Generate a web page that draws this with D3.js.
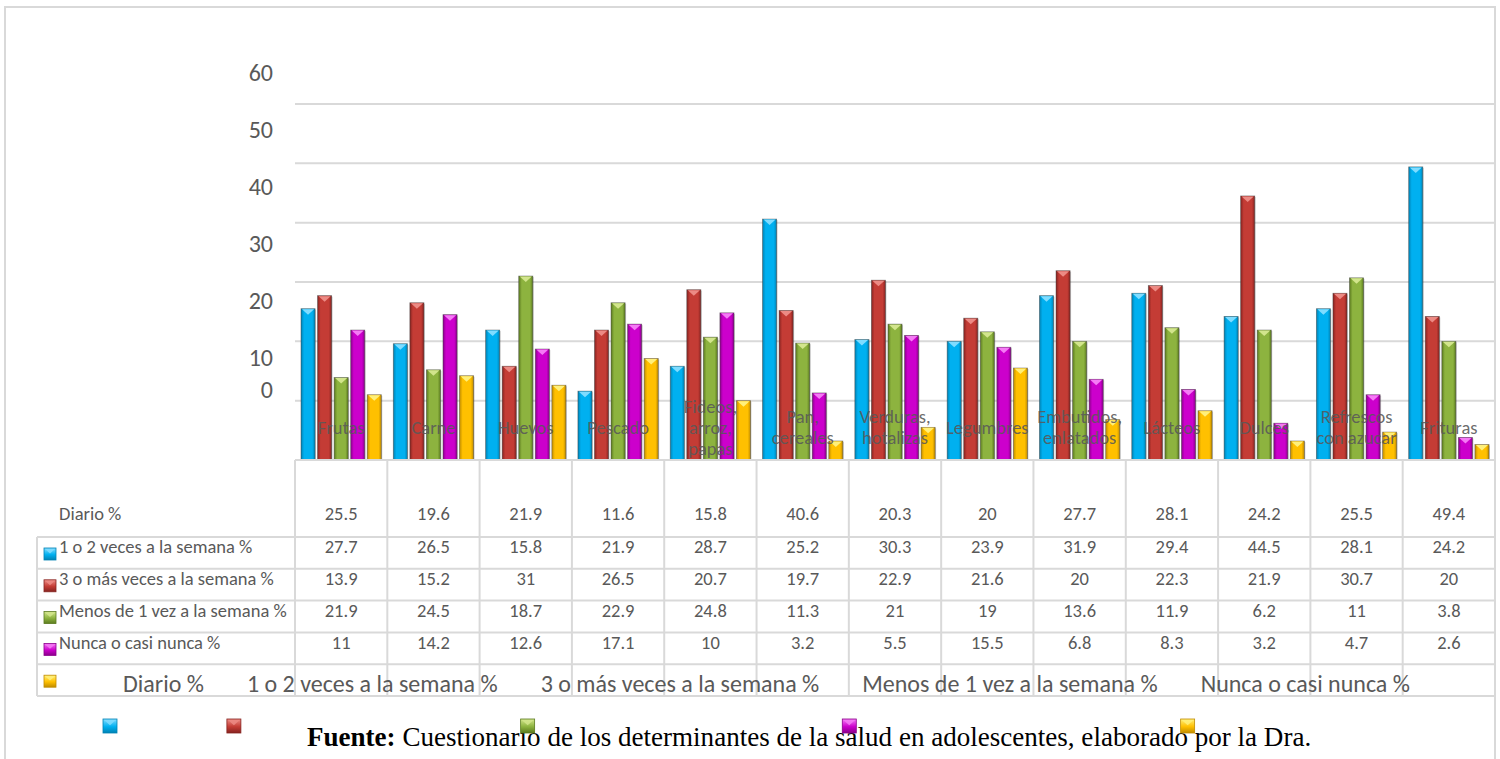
<!DOCTYPE html>
<html>
<head>
<meta charset="utf-8">
<script src="https://cdn.jsdelivr.net/npm/d3@7"></script>
<style>
  body { margin: 0; background: #fff; }
  svg { display: block; }
</style>
</head>
<body>
<svg id="chart" width="1500" height="759"></svg>
<script>
// Food groups (x categories)
const categories = ["Frutas", "Carne", "Huevos", "Pescado", "Fideos, arroz, papas", "Pan, cereales",
  "Verduras, hotalizas", "Legumbres", "Embutidos, enlatados", "Lácteos", "Dulces",
  "Refrescos con azucar", "Frituras"];

// Consumption frequency series (percent)
const seriesNames = ["Diario %", "1 o 2 veces a la semana %", "3 o más veces a la semana %",
  "Menos de 1 vez a la semana %", "Nunca o casi nunca %"];
const diario   = [25.5, 19.6, 21.9, 11.6, 15.8, 40.6, 20.3, 20, 27.7, 28.1, 24.2, 25.5, 49.4];
const unoDos   = [27.7, 26.5, 15.8, 21.9, 28.7, 25.2, 30.3, 23.9, 31.9, 29.4, 44.5, 28.1, 24.2];
const tresMas  = [13.9, 15.2, 31, 26.5, 20.7, 19.7, 22.9, 21.6, 20, 22.3, 21.9, 30.7, 20];
const menosUna = [21.9, 24.5, 18.7, 22.9, 24.8, 11.3, 21, 19, 13.6, 11.9, 6.2, 11, 3.8];
const nunca    = [11, 14.2, 12.6, 17.1, 10, 3.2, 5.5, 15.5, 6.8, 8.3, 3.2, 4.7, 2.6];

const yTicks = [0, 10, 20, 30, 40, 50, 60];
const sourceBold = "Fuente:";
const sourceText = " Cuestionario de los determinantes de la salud en adolescentes, elaborado por la Dra.";

const seriesValues = [diario, unoDos, tresMas, menosUna, nunca];
const palette = [
  { base: "#00b0f0", light: "#7fdcff", dark: "#0082b4" },
  { base: "#c43c35", light: "#ec8a84", dark: "#862320" },
  { base: "#8db33f", light: "#d2e58c", dark: "#5b7a1f" },
  { base: "#cc00cc", light: "#f57af5", dark: "#8a008a" },
  { base: "#ffc000", light: "#fff07a", dark: "#c08c00" }
];

const FONT = "Carlito, Calibri, Lato, sans-serif";
const GRID = "#d9d9d9";
const TXT = "#595959";

const svg = d3.select("#chart");

// Gradients for the bevelled bar look
const defs = svg.append("defs");
palette.forEach((c, i) => {
  const g = defs.append("linearGradient").attr("id", "barGrad" + i)
    .attr("x1", "0%").attr("x2", "100%").attr("y1", "0%").attr("y2", "0%");
  g.append("stop").attr("offset", "0%").attr("stop-color", c.dark);
  g.append("stop").attr("offset", "22%").attr("stop-color", c.base);
  g.append("stop").attr("offset", "45%").attr("stop-color", c.base);
  g.append("stop").attr("offset", "80%").attr("stop-color", c.base);
  g.append("stop").attr("offset", "100%").attr("stop-color", c.dark);
  const m = defs.append("linearGradient").attr("id", "mkGrad" + i)
    .attr("x1", "0%").attr("x2", "0%").attr("y1", "0%").attr("y2", "100%");
  m.append("stop").attr("offset", "0%").attr("stop-color", c.light);
  m.append("stop").attr("offset", "55%").attr("stop-color", c.base);
  m.append("stop").attr("offset", "100%").attr("stop-color", c.dark);
});

// Outer frame
svg.append("rect").attr("x", 5).attr("y", 7).attr("width", 1490).attr("height", 770)
  .attr("fill", "none").attr("stroke", GRID).attr("stroke-width", 2);

// Scales
const x = d3.scaleBand().domain(categories).range([295, 1495]);
const xs = d3.scaleBand().domain(d3.range(seriesNames.length))
  .range([6, x.bandwidth() - 6]).paddingInner(0.15);
const y = d3.scaleLinear().domain([0, 60]).range([460, 104]);
// tick labels sit on their own (offset) scale
const yLabel = d3.scaleLinear().domain([0, 10, 60]).range([389, 357, 72]);

// Gridlines
svg.append("g").selectAll("line").data(yTicks.filter(t => t > 0)).join("line")
  .attr("x1", 295).attr("x2", 1495)
  .attr("y1", d => y(d)).attr("y2", d => y(d))
  .attr("stroke", GRID).attr("stroke-width", 2);

// Y tick labels
const yAxis = d3.axisLeft(yLabel).tickValues(yTicks).tickSize(0).tickPadding(0);
const yAxisG = svg.append("g").attr("transform", "translate(273,0)").call(yAxis);
yAxisG.select(".domain").remove();
yAxisG.selectAll("text").attr("font-family", FONT).attr("font-size", 24)
  .attr("fill", TXT).attr("dy", "0.35em");

// Bars
const barG = svg.append("g");
categories.forEach((cat, ci) => {
  seriesValues.forEach((vals, si) => {
    const bx = x(cat) + xs(si), bw = xs.bandwidth();
    const top = y(vals[ci]), h = y(0) - top;
    const c = palette[si];
    barG.append("rect").attr("x", bx + 1).attr("y", top + 1).attr("width", bw).attr("height", h)
      .attr("fill", "rgba(0,0,0,0.18)");
    barG.append("rect").attr("x", bx).attr("y", top).attr("width", bw).attr("height", h)
      .attr("fill", `url(#barGrad${si})`)
      .attr("stroke", "rgba(60,60,60,0.55)").attr("stroke-width", 0.8);
    barG.append("path")
      .attr("d", `M${bx + 1},${top + 0.5}L${bx + bw - 1},${top + 0.5}L${bx + bw / 2},${top + 6}Z`)
      .attr("fill", c.light);
  });
});

// Baseline
svg.append("line").attr("x1", 295).attr("x2", 1495).attr("y1", 460).attr("y2", 460)
  .attr("stroke", GRID).attr("stroke-width", 2);

// Category labels drawn over the bars
const CAT_SIZE = 18.5;
const measure = svg.append("text").attr("font-family", FONT).attr("font-size", CAT_SIZE)
  .attr("visibility", "hidden");
function textWidth(s) { measure.text(s); return measure.node().getComputedTextLength(); }
function wrapLabel(s, maxW) {
  const parts = s.split(/(?<=,)\s+/);
  const lines = [];
  parts.forEach(p => {
    const words = p.split(" ");
    let cur = "";
    words.forEach(w => {
      const t = cur ? cur + " " + w : w;
      if (cur && textWidth(t) > maxW) { lines.push(cur); cur = w; } else cur = t;
    });
    if (cur) lines.push(cur);
  });
  return lines;
}
const catG = svg.append("g");
categories.forEach(cat => {
  const lines = wrapLabel(cat, 86);
  const lh = 21, cy = 427.5;
  const t = catG.append("text").attr("font-family", FONT).attr("font-size", CAT_SIZE)
    .attr("fill", TXT).attr("fill-opacity", 0.9).attr("text-anchor", "middle");
  lines.forEach((ln, i) => {
    t.append("tspan").attr("x", x(cat) + x.bandwidth() / 2)
      .attr("y", cy + (i - (lines.length - 1) / 2) * lh).attr("dy", "0.35em").text(ln);
  });
});

// Data table beneath the plot
const row = d3.scaleLinear().domain([0, 5]).range([537, 696]);
const tableG = svg.append("g");
// horizontal rules
tableG.selectAll("line.h").data(d3.range(6)).join("line").attr("class", "h")
  .attr("x1", 37).attr("x2", 1495).attr("y1", d => row(d)).attr("y2", d => row(d))
  .attr("stroke", GRID).attr("stroke-width", 2);
// left edge of the lower rows
tableG.append("line").attr("x1", 37).attr("x2", 37).attr("y1", row(0)).attr("y2", row(5))
  .attr("stroke", GRID).attr("stroke-width", 2);
// column rules
const colEdges = categories.map(c => x(c)).concat([x.range()[1]]);
tableG.selectAll("line.v").data(colEdges).join("line").attr("class", "v")
  .attr("x1", d => d).attr("x2", d => d).attr("y1", 460).attr("y2", row(5))
  .attr("stroke", GRID).attr("stroke-width", 2);

// row text y positions: header row for "Diario", then upper part of each row
const rowTextY = si => si === 0 ? 514 : row(si - 1) + 10;
const TBL_SIZE = 18.5;

seriesNames.forEach((name, si) => {
  tableG.append("text").attr("x", 59).attr("y", rowTextY(si)).attr("dy", "0.35em")
    .attr("font-family", FONT).attr("font-size", TBL_SIZE).attr("fill", TXT).text(name);
  seriesValues[si].forEach((v, ci) => {
    tableG.append("text").attr("x", x(categories[ci]) + x.bandwidth() / 2)
      .attr("y", rowTextY(si)).attr("dy", "0.35em").attr("text-anchor", "middle")
      .attr("font-family", FONT).attr("font-size", TBL_SIZE).attr("fill", TXT).text(v);
  });
});

function marker(g, mx, my, sz, si) {
  const c = palette[si];
  g.append("rect").attr("x", mx).attr("y", my).attr("width", sz).attr("height", sz)
    .attr("fill", `url(#mkGrad${si})`).attr("stroke", c.dark).attr("stroke-width", 0.8);
  g.append("path").attr("d", `M${mx + 1},${my + 1}L${mx + sz - 1},${my + 1}L${mx + sz / 2},${my + sz * 0.45}Z`)
    .attr("fill", c.light).attr("opacity", 0.85);
}

// legend keys at the left of the table rows
seriesNames.forEach((n, si) => marker(tableG, 44, row(si) + 11, 12, si));

// horizontal legend strip in the last row
const legG = svg.append("g");
const legSize = 24, legGap = 43, legStart = 123;
let lx = legStart;
seriesNames.forEach((n, si) => {
  const t = legG.append("text").attr("font-family", FONT).attr("font-size", legSize)
    .attr("fill", TXT).attr("x", lx).attr("y", row(4) + 19).attr("dy", "0.35em").text(n);
  marker(legG, lx - 20, 719, 14, si);
  lx += t.node().getComputedTextLength() + legGap;
});

// Source note
const src = svg.append("text").attr("x", 307).attr("y", 746)
  .attr("font-family", "'Liberation Serif', 'Times New Roman', serif").attr("font-size", 24).attr("fill", "#000");
src.append("tspan").attr("font-weight", "bold").text(sourceBold);
src.append("tspan").text(sourceText);
const srcW = src.node().getComputedTextLength();
src.attr("font-size", 24 * 1005 / srcW);

// keep the detached legend keys above the source line
legG.raise();
</script>
</body>
</html>
